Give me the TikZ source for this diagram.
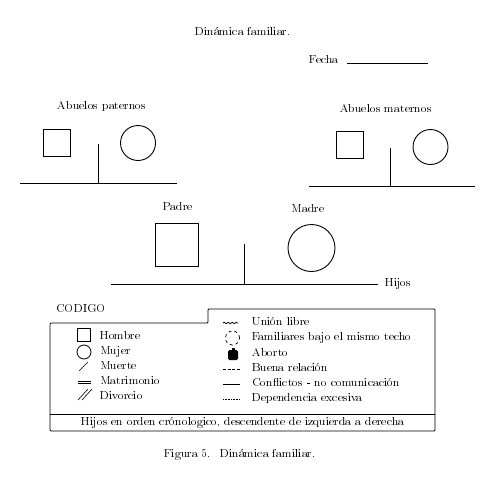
\documentclass[tikz,border=0pt]{standalone}
\usepackage[T1]{fontenc}
\usetikzlibrary{positioning,decorations.pathmorphing}

\tikzset{
	txt/.style={font=\fontsize{11.7}{13}\selectfont, inner sep=0pt, text height=7.5pt, text depth=2pt},
	hombre/.style={draw, line width=0.9pt, minimum size=#1, inner sep=0pt},
	mujer/.style={draw, circle, line width=0.9pt, minimum size=#1, inner sep=0pt},
	linea/.style={line width=0.9pt}
}

\begin{document}
\begin{tikzpicture}[x=1pt, y=-1pt]
		\useasboundingbox (0,0) rectangle (501,477);
		
		\node[txt] (titulo) at (243,33) {Dinámica familiar.};
		\node[txt, anchor=east] (fecha) at (339,61) {Fecha};
		\coordinate (fechaA) at (347,63);
		\coordinate (fechaB) at (428,63);
		\draw[linea] (fechaA) -- (fechaB);
		
		% abuelos
		\node[txt] (abpat) at (102,107) {Abuelos paternos};
		\node[hombre=27pt] (abuelo1) at (56.5,142.5) {};
		\node[mujer=35pt] (abuela1) at (138,143) {};
		\node[txt] (abmat) at (386,110) {Abuelos maternos};
		\node[hombre=27pt] (abuelo2) at (349.5,145) {};
		\node[mujer=35pt] (abuela2) at (430.5,147) {};
		
		% padres
		\node[txt] (padre) at (178,208) {Padre};
		\node[txt] (madre) at (308,210) {Madre};
		\node[hombre=43pt] (sqpadre) at (176.5,244.5) {};
		\node[mujer=47pt] (cimadre) at (311.5,248) {};
		\node[txt, anchor=west] (hijos) at (385,284) {Hijos};
		
		\foreach \n/\a/\b/\c/\top/\y in {pat/20/177/98/144/183, mat/309/475/390/148/186, hij/111/378/244/244/284}
		{
			\coordinate (\n0) at (\a,\y);
			\coordinate (\n1) at (\b,\y);
			\coordinate (\n2) at (\c,\top);
			\coordinate (\n3) at (\c,\y);
			\draw[linea] (\n0) -- (\n1);
			\draw[linea] (\n2) -- (\n3);
		}
		
		% codigo
		\node[txt] (codigo) at (81,310) {CODIGO};
		\draw[linea, rounded corners=1pt] (50,323) -- (208,323) -- (208,309) -- (435,309) -- (435,431) -- (50,431) -- cycle;
		\draw[linea] (50,414) -- (435,414);
		\node[txt] (nota) at (243,422.5) {Hijos en orden crónologico, descendente de izquierda a derecha};
		
		\foreach \t [count=\i] in {Hombre, Mujer, Muerte, Matrimonio, Divorcio}
			\node[txt, anchor=west] (izq\i) at (100,{337+15*(\i-1)}) {\t};
		\foreach \t [count=\i] in {Unión libre, Familiares bajo el mismo techo, Aborto, Buena relación, Conflictos - no comunicación, Dependencia excesiva}
			\node[txt, anchor=west] (der\i) at (252,{323+15.2*(\i-1)}) {\t};
		
		\node[hombre=13pt, line width=0.8pt] (symH) at (84,335) {};
		\node[mujer=14pt, line width=0.8pt] (symM) at (84,352) {};
		\draw[line width=0.6pt] (79,371) -- (88,362);
		\draw[line width=0.7pt] (78,381.6) -- (91,381.6);
		\draw[line width=0.7pt] (78,383.8) -- (91,383.8);
		\draw[line width=0.6pt] (78,400) -- (88,389);
		\draw[line width=0.6pt] (82,400) -- (92,389);
		
		\draw[line width=0.8pt, decorate, decoration={snake, segment length=4pt, amplitude=0.7pt}] (223,323) -- (238,323);
		\node[mujer=14pt, dashed, line width=0.7pt] (symF) at (232.5,338) {};
		\fill[rounded corners=1.5pt] (228,350) rectangle (238,360);
		\fill (231.5,347.5) rectangle (234.5,350.5);
		\draw[line width=0.7pt, dash pattern=on 3pt off 1.5pt] (223,369) -- (240,369);
		\draw[line width=0.9pt] (223,384) -- (240,384);
		\draw[line width=0.4pt, dash pattern=on 1pt off 0.6pt] (223,399) -- (240,399);
		
		\node[txt] (figura) at (240,455) {Figura 5.~ Dinámica familiar.};
	\end{tikzpicture}
\end{document}
